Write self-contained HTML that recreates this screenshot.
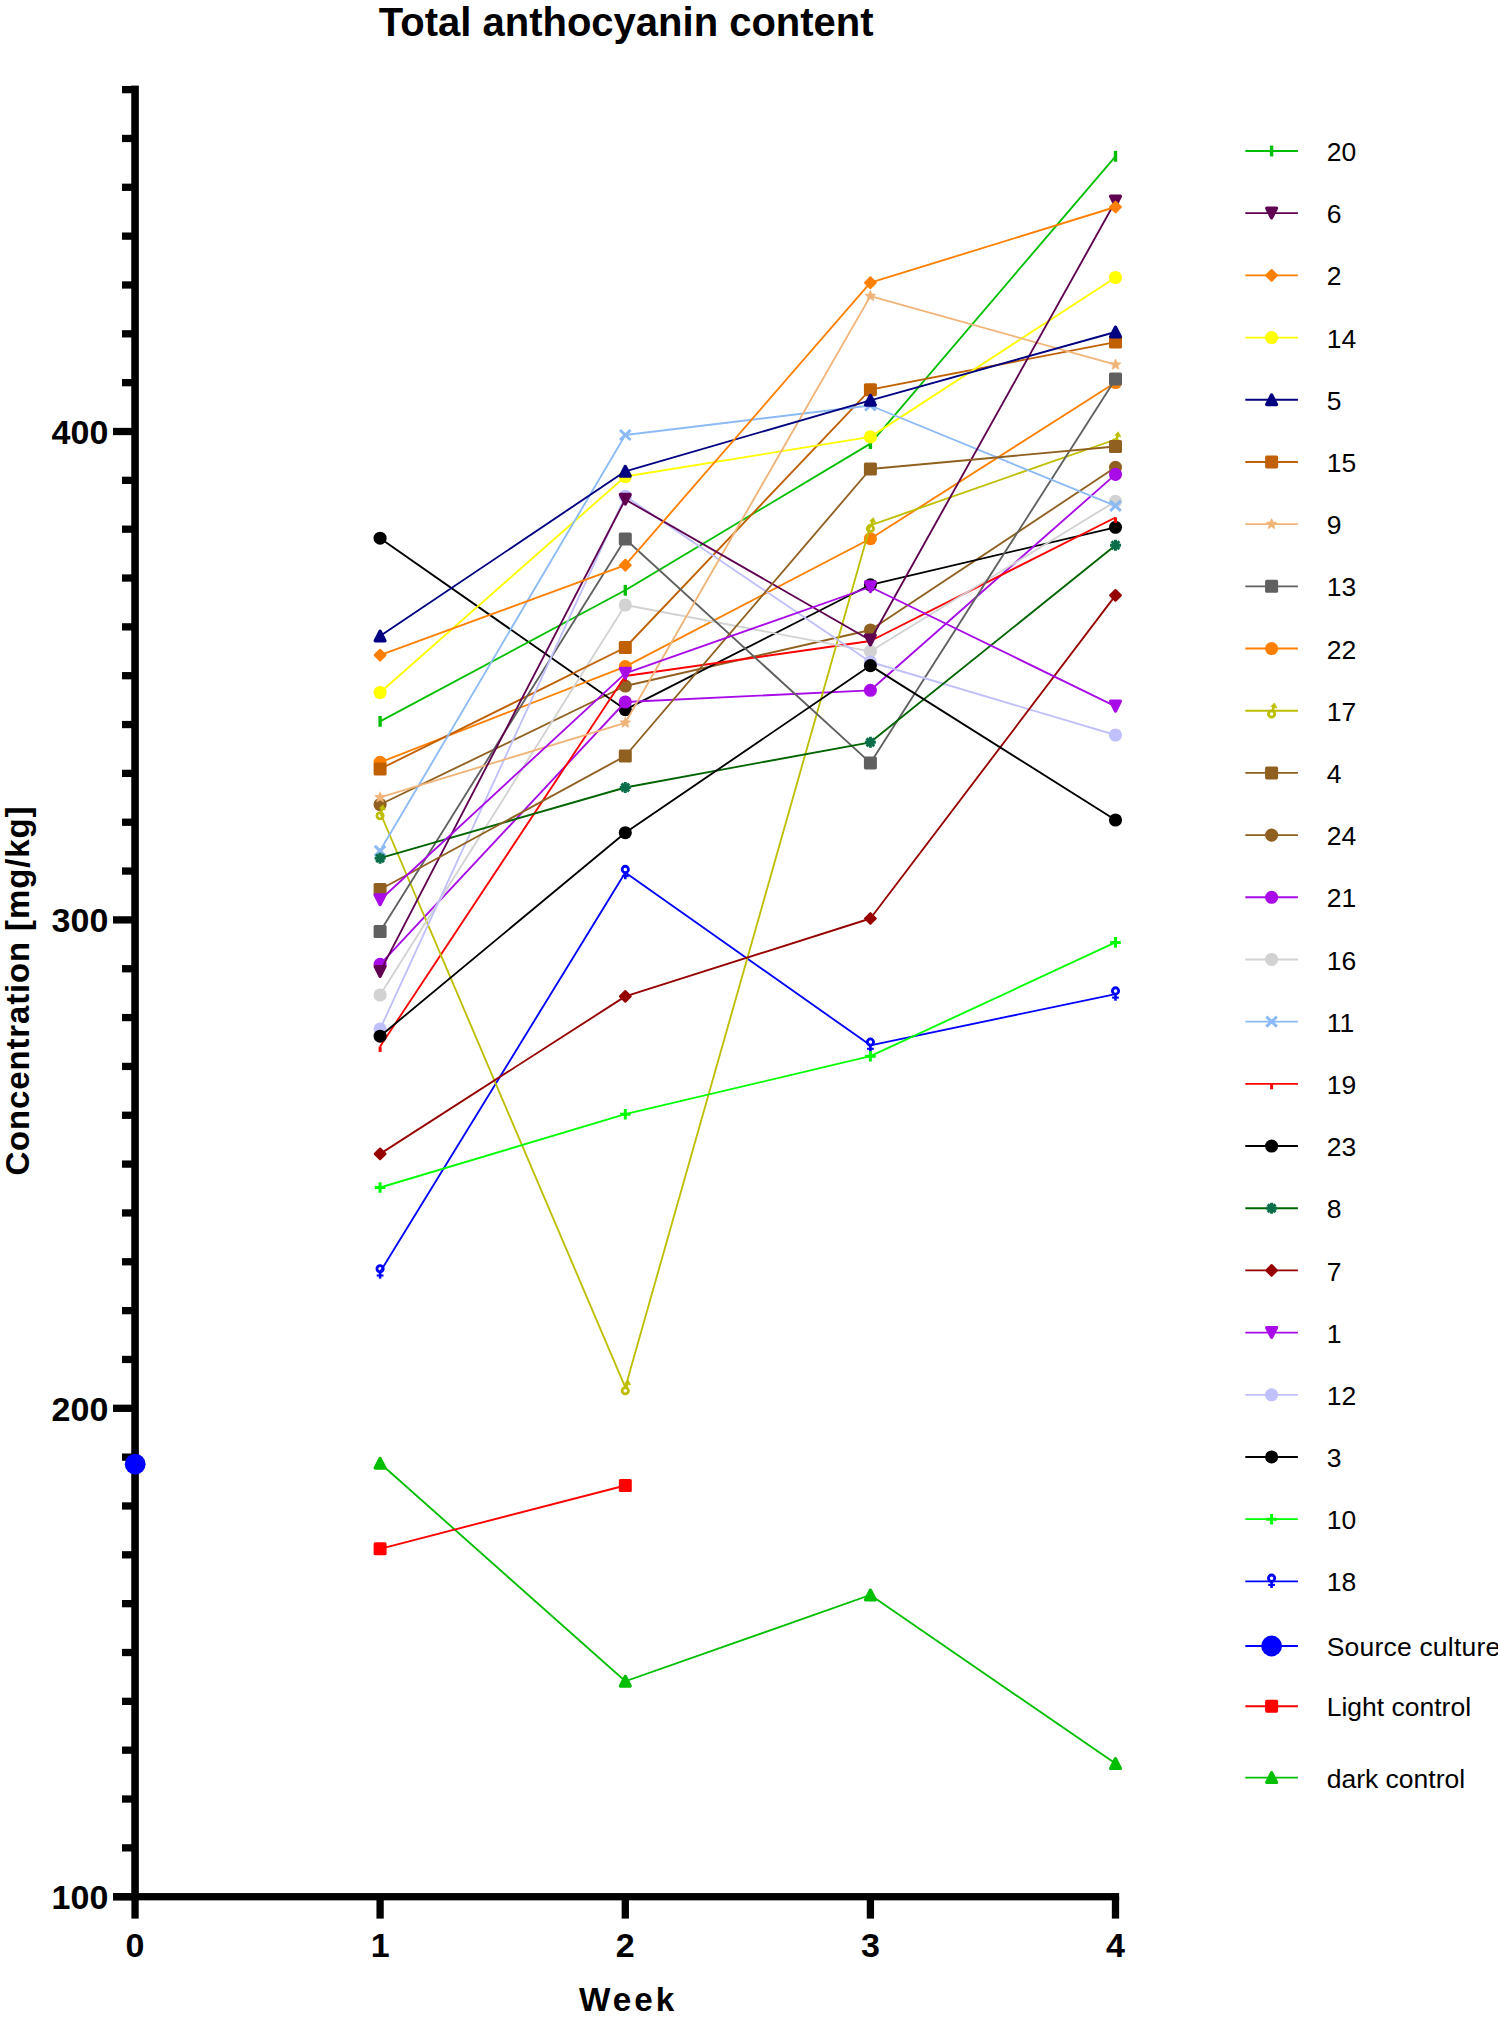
<!DOCTYPE html>
<html lang="en">
<head>
<meta charset="utf-8">
<title>Total anthocyanin content</title>
<style>html,body{margin:0;padding:0;background:#fff}svg{display:block}</style>
</head>
<body>
<svg width="1498" height="2024" viewBox="0 0 1498 2024">
<rect width="1498" height="2024" fill="#fff"/>
<g fill="#000"><rect x="131.25" y="85.6" width="7.6" height="1814.7"/><rect x="113" y="1893.05" width="1006.15" height="7.3"/><rect x="113" y="1893.05" width="22.05" height="7.3"/><rect x="122" y="1844.21" width="13.05" height="7.3"/><rect x="122" y="1795.37" width="13.05" height="7.3"/><rect x="122" y="1746.53" width="13.05" height="7.3"/><rect x="122" y="1697.69" width="13.05" height="7.3"/><rect x="122" y="1648.85" width="13.05" height="7.3"/><rect x="122" y="1600.01" width="13.05" height="7.3"/><rect x="122" y="1551.17" width="13.05" height="7.3"/><rect x="122" y="1502.33" width="13.05" height="7.3"/><rect x="122" y="1453.49" width="13.05" height="7.3"/><rect x="113" y="1404.65" width="22.05" height="7.3"/><rect x="122" y="1355.81" width="13.05" height="7.3"/><rect x="122" y="1306.97" width="13.05" height="7.3"/><rect x="122" y="1258.13" width="13.05" height="7.3"/><rect x="122" y="1209.29" width="13.05" height="7.3"/><rect x="122" y="1160.45" width="13.05" height="7.3"/><rect x="122" y="1111.61" width="13.05" height="7.3"/><rect x="122" y="1062.77" width="13.05" height="7.3"/><rect x="122" y="1013.93" width="13.05" height="7.3"/><rect x="122" y="965.09" width="13.05" height="7.3"/><rect x="113" y="916.25" width="22.05" height="7.3"/><rect x="122" y="867.41" width="13.05" height="7.3"/><rect x="122" y="818.57" width="13.05" height="7.3"/><rect x="122" y="769.73" width="13.05" height="7.3"/><rect x="122" y="720.89" width="13.05" height="7.3"/><rect x="122" y="672.05" width="13.05" height="7.3"/><rect x="122" y="623.21" width="13.05" height="7.3"/><rect x="122" y="574.37" width="13.05" height="7.3"/><rect x="122" y="525.53" width="13.05" height="7.3"/><rect x="122" y="476.69" width="13.05" height="7.3"/><rect x="113" y="427.85" width="22.05" height="7.3"/><rect x="122" y="379.01" width="13.05" height="7.3"/><rect x="122" y="330.17" width="13.05" height="7.3"/><rect x="122" y="281.33" width="13.05" height="7.3"/><rect x="122" y="232.49" width="13.05" height="7.3"/><rect x="122" y="183.65" width="13.05" height="7.3"/><rect x="122" y="134.81" width="13.05" height="7.3"/><rect x="122" y="85.97" width="13.05" height="7.3"/><rect x="131.4" y="1896.7" width="7.3" height="21.9"/><rect x="376.45" y="1896.7" width="7.3" height="21.9"/><rect x="621.65" y="1896.7" width="7.3" height="21.9"/><rect x="866.75" y="1896.7" width="7.3" height="21.9"/><rect x="1111.85" y="1896.7" width="7.3" height="21.9"/></g>
<g font-family="'Liberation Sans', Arial, Helvetica, sans-serif" fill="#000">
<text x="626.2" y="36" font-size="40" font-weight="bold" text-anchor="middle">Total anthocyanin content</text>
<text x="108.3" y="1909.1" font-size="34" font-weight="bold" text-anchor="end">100</text>
<text x="108.3" y="1420.7" font-size="34" font-weight="bold" text-anchor="end">200</text>
<text x="108.3" y="932.3" font-size="34" font-weight="bold" text-anchor="end">300</text>
<text x="108.3" y="443.9" font-size="34" font-weight="bold" text-anchor="end">400</text>
<text x="135.05" y="1956.9" font-size="34" font-weight="bold" text-anchor="middle">0</text>
<text x="380.1" y="1956.9" font-size="34" font-weight="bold" text-anchor="middle">1</text>
<text x="625.3" y="1956.9" font-size="34" font-weight="bold" text-anchor="middle">2</text>
<text x="870.4" y="1956.9" font-size="34" font-weight="bold" text-anchor="middle">3</text>
<text x="1115.5" y="1956.9" font-size="34" font-weight="bold" text-anchor="middle">4</text>
<text x="628.1" y="2010.9" font-size="33.3" font-weight="bold" text-anchor="middle" letter-spacing="2.9">Week</text>
<text transform="translate(29 990.7) rotate(-90)" font-size="33" font-weight="bold" text-anchor="middle" letter-spacing="0.85">Concentration [mg/kg]</text>
</g>
<polyline points="380.1,1463.2 625.3,1681.3 870.4,1595 1115.5,1763.6" fill="none" stroke="#00BE00" stroke-width="1.85"/>
<polygon points="380.1,1458.4 384.95,1468 375.25,1468" fill="#00BE00" stroke="#00BE00" stroke-width="3.4" stroke-linejoin="round"/>
<polygon points="625.3,1676.5 630.15,1686.1 620.45,1686.1" fill="#00BE00" stroke="#00BE00" stroke-width="3.4" stroke-linejoin="round"/>
<polygon points="870.4,1590.2 875.25,1599.8 865.55,1599.8" fill="#00BE00" stroke="#00BE00" stroke-width="3.4" stroke-linejoin="round"/>
<polygon points="1115.5,1758.8 1120.35,1768.4 1110.65,1768.4" fill="#00BE00" stroke="#00BE00" stroke-width="3.4" stroke-linejoin="round"/>
<polyline points="380.1,1548.8 625.3,1485.5" fill="none" stroke="#FF0000" stroke-width="1.85"/>
<rect x="373.6" y="1542.3" width="13.0" height="13.0" rx="1.6" fill="#FF0000"/>
<rect x="618.8" y="1479" width="13.0" height="13.0" rx="1.6" fill="#FF0000"/>
<circle cx="135.2" cy="1464.2" r="10.4" fill="#0000FF"/>
<polyline points="380.1,804.5 625.3,686 870.4,630 1115.5,467.3" fill="none" stroke="#906020" stroke-width="1.85" stroke-linejoin="round"/><circle cx="380.1" cy="804.5" r="6.55" fill="#906020"/><circle cx="625.3" cy="686" r="6.55" fill="#906020"/><circle cx="870.4" cy="630" r="6.55" fill="#906020"/><circle cx="1115.5" cy="467.3" r="6.55" fill="#906020"/>
<polyline points="380.1,538.2 625.3,709.6 870.4,584.8 1115.5,527.3" fill="none" stroke="#000000" stroke-width="1.85" stroke-linejoin="round"/><circle cx="380.1" cy="538.2" r="6.55" fill="#000000"/><circle cx="625.3" cy="709.6" r="6.55" fill="#000000"/><circle cx="870.4" cy="584.8" r="6.55" fill="#000000"/><circle cx="1115.5" cy="527.3" r="6.55" fill="#000000"/>
<polyline points="380.1,762.3 625.3,666.6 870.4,538.7 1115.5,382.5" fill="none" stroke="#FF8000" stroke-width="1.85" stroke-linejoin="round"/><circle cx="380.1" cy="762.3" r="6.55" fill="#FF8000"/><circle cx="625.3" cy="666.6" r="6.55" fill="#FF8000"/><circle cx="870.4" cy="538.7" r="6.55" fill="#FF8000"/><circle cx="1115.5" cy="382.5" r="6.55" fill="#FF8000"/>
<polyline points="380.1,964.4 625.3,702 870.4,690.3 1115.5,474.4" fill="none" stroke="#A80AE8" stroke-width="1.85" stroke-linejoin="round"/><circle cx="380.1" cy="964.4" r="6.55" fill="#A80AE8"/><circle cx="625.3" cy="702" r="6.55" fill="#A80AE8"/><circle cx="870.4" cy="690.3" r="6.55" fill="#A80AE8"/><circle cx="1115.5" cy="474.4" r="6.55" fill="#A80AE8"/>
<polyline points="380.1,721.4 625.3,590.3 870.4,443.6 1115.5,156.3" fill="none" stroke="#00BE00" stroke-width="1.85" stroke-linejoin="round"/><path d="M380.1 716V726.8" stroke="#00BE00" stroke-width="3.4" fill="none"/><path d="M625.3 584.9V595.7" stroke="#00BE00" stroke-width="3.4" fill="none"/><path d="M870.4 438.2V449" stroke="#00BE00" stroke-width="3.4" fill="none"/><path d="M1115.5 150.9V161.7" stroke="#00BE00" stroke-width="3.4" fill="none"/>
<polyline points="380.1,1046.5 625.3,676 870.4,641 1115.5,517.5" fill="none" stroke="#FF0000" stroke-width="1.85" stroke-linejoin="round"/><path d="M380.1 1046.5V1051.9" stroke="#FF0000" stroke-width="3" fill="none"/><path d="M625.3 676V681.4" stroke="#FF0000" stroke-width="3" fill="none"/><path d="M870.4 641V646.4" stroke="#FF0000" stroke-width="3" fill="none"/><path d="M1115.5 517.5V522.9" stroke="#FF0000" stroke-width="3" fill="none"/>
<polyline points="380.1,1272 625.3,872.6 870.4,1045.3 1115.5,994.1" fill="none" stroke="#0000FF" stroke-width="1.85" stroke-linejoin="round"/><g transform="translate(380.1 1272)"><circle cx="0" cy="-3.2" r="3.15" fill="none" stroke="#0000FF" stroke-width="2.8"/><path d="M0 -0.2V6.6" stroke="#0000FF" stroke-width="2.6" fill="none"/><path d="M-3.4 3.5H3.4" stroke="#0000FF" stroke-width="2.1" fill="none"/></g><g transform="translate(625.3 872.6)"><circle cx="0" cy="-3.2" r="3.15" fill="none" stroke="#0000FF" stroke-width="2.8"/><path d="M0 -0.2V6.6" stroke="#0000FF" stroke-width="2.6" fill="none"/><path d="M-3.4 3.5H3.4" stroke="#0000FF" stroke-width="2.1" fill="none"/></g><g transform="translate(870.4 1045.3)"><circle cx="0" cy="-3.2" r="3.15" fill="none" stroke="#0000FF" stroke-width="2.8"/><path d="M0 -0.2V6.6" stroke="#0000FF" stroke-width="2.6" fill="none"/><path d="M-3.4 3.5H3.4" stroke="#0000FF" stroke-width="2.1" fill="none"/></g><g transform="translate(1115.5 994.1)"><circle cx="0" cy="-3.2" r="3.15" fill="none" stroke="#0000FF" stroke-width="2.8"/><path d="M0 -0.2V6.6" stroke="#0000FF" stroke-width="2.6" fill="none"/><path d="M-3.4 3.5H3.4" stroke="#0000FF" stroke-width="2.1" fill="none"/></g>
<polyline points="380.1,812.5 625.3,1387.4 870.4,525.3 1115.5,439.5" fill="none" stroke="#BEBE00" stroke-width="1.85" stroke-linejoin="round"/><g transform="translate(380.1 812.5)"><circle cx="0" cy="3.3" r="3.15" fill="none" stroke="#BEBE00" stroke-width="2.8"/><path d="M0.8 0.6L2.4 -5" stroke="#BEBE00" stroke-width="2.6" fill="none"/><polygon points="2.8,-7.8 -0.7,-4.2 5.4,-2.5" fill="#BEBE00" stroke="#BEBE00" stroke-width="0.6" stroke-linejoin="round"/></g><g transform="translate(625.3 1387.4)"><circle cx="0" cy="3.3" r="3.15" fill="none" stroke="#BEBE00" stroke-width="2.8"/><path d="M0.8 0.6L2.4 -5" stroke="#BEBE00" stroke-width="2.6" fill="none"/><polygon points="2.8,-7.8 -0.7,-4.2 5.4,-2.5" fill="#BEBE00" stroke="#BEBE00" stroke-width="0.6" stroke-linejoin="round"/></g><g transform="translate(870.4 525.3)"><circle cx="0" cy="3.3" r="3.15" fill="none" stroke="#BEBE00" stroke-width="2.8"/><path d="M0.8 0.6L2.4 -5" stroke="#BEBE00" stroke-width="2.6" fill="none"/><polygon points="2.8,-7.8 -0.7,-4.2 5.4,-2.5" fill="#BEBE00" stroke="#BEBE00" stroke-width="0.6" stroke-linejoin="round"/></g><g transform="translate(1115.5 439.5)"><circle cx="0" cy="3.3" r="3.15" fill="none" stroke="#BEBE00" stroke-width="2.8"/><path d="M0.8 0.6L2.4 -5" stroke="#BEBE00" stroke-width="2.6" fill="none"/><polygon points="2.8,-7.8 -0.7,-4.2 5.4,-2.5" fill="#BEBE00" stroke="#BEBE00" stroke-width="0.6" stroke-linejoin="round"/></g>
<polyline points="380.1,995 625.3,605 870.4,651.3 1115.5,501.4" fill="none" stroke="#D2D2D2" stroke-width="1.85" stroke-linejoin="round"/><circle cx="380.1" cy="995" r="6.55" fill="#D2D2D2"/><circle cx="625.3" cy="605" r="6.55" fill="#D2D2D2"/><circle cx="870.4" cy="651.3" r="6.55" fill="#D2D2D2"/><circle cx="1115.5" cy="501.4" r="6.55" fill="#D2D2D2"/>
<polyline points="380.1,769 625.3,647.5 870.4,389.7 1115.5,342.1" fill="none" stroke="#C06000" stroke-width="1.85" stroke-linejoin="round"/><rect x="373.6" y="762.5" width="13.0" height="13.0" rx="1.6" fill="#C06000"/><rect x="618.8" y="641" width="13.0" height="13.0" rx="1.6" fill="#C06000"/><rect x="863.9" y="383.2" width="13.0" height="13.0" rx="1.6" fill="#C06000"/><rect x="1109" y="335.6" width="13.0" height="13.0" rx="1.6" fill="#C06000"/>
<polyline points="380.1,692.5 625.3,476.5 870.4,436.9 1115.5,277.5" fill="none" stroke="#FFFF00" stroke-width="1.85" stroke-linejoin="round"/><circle cx="380.1" cy="692.5" r="6.55" fill="#FFFF00"/><circle cx="625.3" cy="476.5" r="6.55" fill="#FFFF00"/><circle cx="870.4" cy="436.9" r="6.55" fill="#FFFF00"/><circle cx="1115.5" cy="277.5" r="6.55" fill="#FFFF00"/>
<polyline points="380.1,931.5 625.3,539 870.4,762.9 1115.5,379" fill="none" stroke="#606060" stroke-width="1.85" stroke-linejoin="round"/><rect x="373.6" y="925" width="13.0" height="13.0" rx="1.6" fill="#606060"/><rect x="618.8" y="532.5" width="13.0" height="13.0" rx="1.6" fill="#606060"/><rect x="863.9" y="756.4" width="13.0" height="13.0" rx="1.6" fill="#606060"/><rect x="1109" y="372.5" width="13.0" height="13.0" rx="1.6" fill="#606060"/>
<polyline points="380.1,1029 625.3,496.2 870.4,662 1115.5,735" fill="none" stroke="#C0C0FA" stroke-width="1.85" stroke-linejoin="round"/><circle cx="380.1" cy="1029" r="6.55" fill="#C0C0FA"/><circle cx="625.3" cy="496.2" r="6.55" fill="#C0C0FA"/><circle cx="870.4" cy="662" r="6.55" fill="#C0C0FA"/><circle cx="1115.5" cy="735" r="6.55" fill="#C0C0FA"/>
<polyline points="380.1,850.8 625.3,435 870.4,405.5 1115.5,505.9" fill="none" stroke="#8CBAF5" stroke-width="1.85" stroke-linejoin="round"/><path d="M374.8 845.8L385.4 855.8M385.4 845.8L374.8 855.8" stroke="#8CBAF5" stroke-width="3" fill="none"/><path d="M620 430L630.6 440M630.6 430L620 440" stroke="#8CBAF5" stroke-width="3" fill="none"/><path d="M865.1 400.5L875.7 410.5M875.7 400.5L865.1 410.5" stroke="#8CBAF5" stroke-width="3" fill="none"/><path d="M1110.2 500.9L1120.8 510.9M1120.8 500.9L1110.2 510.9" stroke="#8CBAF5" stroke-width="3" fill="none"/>
<polyline points="380.1,1187.5 625.3,1114.2 870.4,1056.2 1115.5,942.4" fill="none" stroke="#00FF00" stroke-width="1.85" stroke-linejoin="round"/><path d="M374.8 1187.5H385.4M380.1 1182.2V1192.8" stroke="#00FF00" stroke-width="3" fill="none"/><path d="M620 1114.2H630.6M625.3 1108.9V1119.5" stroke="#00FF00" stroke-width="3" fill="none"/><path d="M865.1 1056.2H875.7M870.4 1050.9V1061.5" stroke="#00FF00" stroke-width="3" fill="none"/><path d="M1110.2 942.4H1120.8M1115.5 937.1V947.7" stroke="#00FF00" stroke-width="3" fill="none"/>
<polyline points="380.1,797.4 625.3,722.8 870.4,296.1 1115.5,364.7" fill="none" stroke="#F0B478" stroke-width="1.85" stroke-linejoin="round"/><polygon points="380.1,791.8 381.57,795.38 385.43,795.67 382.48,798.17 383.39,801.93 380.1,799.9 376.81,801.93 377.72,798.17 374.77,795.67 378.63,795.38" fill="#F0B478" stroke="#F0B478" stroke-width="0.8" stroke-linejoin="round"/><polygon points="625.3,717.2 626.77,720.78 630.63,721.07 627.68,723.57 628.59,727.33 625.3,725.3 622.01,727.33 622.92,723.57 619.97,721.07 623.83,720.78" fill="#F0B478" stroke="#F0B478" stroke-width="0.8" stroke-linejoin="round"/><polygon points="870.4,290.5 871.87,294.08 875.73,294.37 872.78,296.87 873.69,300.63 870.4,298.6 867.11,300.63 868.02,296.87 865.07,294.37 868.93,294.08" fill="#F0B478" stroke="#F0B478" stroke-width="0.8" stroke-linejoin="round"/><polygon points="1115.5,359.1 1116.97,362.68 1120.83,362.97 1117.88,365.47 1118.79,369.23 1115.5,367.2 1112.21,369.23 1113.12,365.47 1110.17,362.97 1114.03,362.68" fill="#F0B478" stroke="#F0B478" stroke-width="0.8" stroke-linejoin="round"/>
<polyline points="380.1,858.2 625.3,787.5 870.4,742.3 1115.5,545.2" fill="none" stroke="#006400" stroke-width="1.85" stroke-linejoin="round"/><path d="M374.6 858.2H385.6M380.1 852.7V863.7M376.21 854.31L383.99 862.09M383.99 854.31L376.21 862.09" stroke="#0A6E4B" stroke-width="3" fill="none"/><path d="M619.8 787.5H630.8M625.3 782V793M621.41 783.61L629.19 791.39M629.19 783.61L621.41 791.39" stroke="#0A6E4B" stroke-width="3" fill="none"/><path d="M864.9 742.3H875.9M870.4 736.8V747.8M866.51 738.41L874.29 746.19M874.29 738.41L866.51 746.19" stroke="#0A6E4B" stroke-width="3" fill="none"/><path d="M1110 545.2H1121M1115.5 539.7V550.7M1111.61 541.31L1119.39 549.09M1119.39 541.31L1111.61 549.09" stroke="#0A6E4B" stroke-width="3" fill="none"/>
<polyline points="380.1,1153.9 625.3,996.4 870.4,918.5 1115.5,595.4" fill="none" stroke="#960000" stroke-width="1.85" stroke-linejoin="round"/><polygon points="380.1,1148.6 385.4,1153.9 380.1,1159.2 374.8,1153.9" fill="#960000" stroke="#960000" stroke-width="2.2" stroke-linejoin="round"/><polygon points="625.3,991.1 630.6,996.4 625.3,1001.7 620,996.4" fill="#960000" stroke="#960000" stroke-width="2.2" stroke-linejoin="round"/><polygon points="870.4,913.2 875.7,918.5 870.4,923.8 865.1,918.5" fill="#960000" stroke="#960000" stroke-width="2.2" stroke-linejoin="round"/><polygon points="1115.5,590.1 1120.8,595.4 1115.5,600.7 1110.2,595.4" fill="#960000" stroke="#960000" stroke-width="2.2" stroke-linejoin="round"/>
<polyline points="380.1,971.6 625.3,499.5 870.4,640.2 1115.5,201.3" fill="none" stroke="#5F0050" stroke-width="1.85" stroke-linejoin="round"/><polygon points="380.1,976.2 384.95,966.6 375.25,966.6" fill="#5F0050" stroke="#5F0050" stroke-width="3.4" stroke-linejoin="round"/><polygon points="625.3,504.1 630.15,494.5 620.45,494.5" fill="#5F0050" stroke="#5F0050" stroke-width="3.4" stroke-linejoin="round"/><polygon points="870.4,644.8 875.25,635.2 865.55,635.2" fill="#5F0050" stroke="#5F0050" stroke-width="3.4" stroke-linejoin="round"/><polygon points="1115.5,205.9 1120.35,196.3 1110.65,196.3" fill="#5F0050" stroke="#5F0050" stroke-width="3.4" stroke-linejoin="round"/>
<polyline points="380.1,636 625.3,471.3 870.4,400.3 1115.5,332" fill="none" stroke="#000080" stroke-width="1.85" stroke-linejoin="round"/><polygon points="380.1,631.2 384.95,640.8 375.25,640.8" fill="#000080" stroke="#000080" stroke-width="3.4" stroke-linejoin="round"/><polygon points="625.3,466.5 630.15,476.1 620.45,476.1" fill="#000080" stroke="#000080" stroke-width="3.4" stroke-linejoin="round"/><polygon points="870.4,395.5 875.25,405.1 865.55,405.1" fill="#000080" stroke="#000080" stroke-width="3.4" stroke-linejoin="round"/><polygon points="1115.5,327.2 1120.35,336.8 1110.65,336.8" fill="#000080" stroke="#000080" stroke-width="3.4" stroke-linejoin="round"/>
<polyline points="380.1,889.5 625.3,756 870.4,469 1115.5,446.5" fill="none" stroke="#906020" stroke-width="1.85" stroke-linejoin="round"/><rect x="373.6" y="883" width="13.0" height="13.0" rx="1.6" fill="#906020"/><rect x="618.8" y="749.5" width="13.0" height="13.0" rx="1.6" fill="#906020"/><rect x="863.9" y="462.5" width="13.0" height="13.0" rx="1.6" fill="#906020"/><rect x="1109" y="440" width="13.0" height="13.0" rx="1.6" fill="#906020"/>
<polyline points="380.1,1036.2 625.3,832.7 870.4,665.6 1115.5,820" fill="none" stroke="#000000" stroke-width="1.85" stroke-linejoin="round"/><circle cx="380.1" cy="1036.2" r="6.55" fill="#000000"/><circle cx="625.3" cy="832.7" r="6.55" fill="#000000"/><circle cx="870.4" cy="665.6" r="6.55" fill="#000000"/><circle cx="1115.5" cy="820" r="6.55" fill="#000000"/>
<polyline points="380.1,655.1 625.3,565.2 870.4,282.7 1115.5,207" fill="none" stroke="#FF8000" stroke-width="1.85" stroke-linejoin="round"/><polygon points="380.1,649.8 385.4,655.1 380.1,660.4 374.8,655.1" fill="#FF8000" stroke="#FF8000" stroke-width="2.2" stroke-linejoin="round"/><polygon points="625.3,559.9 630.6,565.2 625.3,570.5 620,565.2" fill="#FF8000" stroke="#FF8000" stroke-width="2.2" stroke-linejoin="round"/><polygon points="870.4,277.4 875.7,282.7 870.4,288 865.1,282.7" fill="#FF8000" stroke="#FF8000" stroke-width="2.2" stroke-linejoin="round"/><polygon points="1115.5,201.7 1120.8,207 1115.5,212.3 1110.2,207" fill="#FF8000" stroke="#FF8000" stroke-width="2.2" stroke-linejoin="round"/>
<polyline points="380.1,900 625.3,673.4 870.4,587 1115.5,706.3" fill="none" stroke="#A80AE8" stroke-width="1.85" stroke-linejoin="round"/><polygon points="380.1,904.6 384.95,895 375.25,895" fill="#A80AE8" stroke="#A80AE8" stroke-width="3.4" stroke-linejoin="round"/><polygon points="625.3,678 630.15,668.4 620.45,668.4" fill="#A80AE8" stroke="#A80AE8" stroke-width="3.4" stroke-linejoin="round"/><polygon points="870.4,591.6 875.25,582 865.55,582" fill="#A80AE8" stroke="#A80AE8" stroke-width="3.4" stroke-linejoin="round"/><polygon points="1115.5,710.9 1120.35,701.3 1110.65,701.3" fill="#A80AE8" stroke="#A80AE8" stroke-width="3.4" stroke-linejoin="round"/>
<g font-family="'Liberation Sans', Arial, Helvetica, sans-serif" font-size="26.5" fill="#000">
<path d="M1245.3 151H1297.9" stroke="#00BE00" stroke-width="1.85"/>
<path d="M1271.6 145.6V156.4" stroke="#00BE00" stroke-width="3.4" fill="none"/>
<text x="1326.7" y="161.1">20</text>
<path d="M1245.3 213.19H1297.9" stroke="#5F0050" stroke-width="1.85"/>
<polygon points="1271.6,217.79 1276.45,208.19 1266.75,208.19" fill="#5F0050" stroke="#5F0050" stroke-width="3.4" stroke-linejoin="round"/>
<text x="1326.7" y="223.29">6</text>
<path d="M1245.3 275.38H1297.9" stroke="#FF8000" stroke-width="1.85"/>
<polygon points="1271.6,270.08 1276.9,275.38 1271.6,280.68 1266.3,275.38" fill="#FF8000" stroke="#FF8000" stroke-width="2.2" stroke-linejoin="round"/>
<text x="1326.7" y="285.48">2</text>
<path d="M1245.3 337.57H1297.9" stroke="#FFFF00" stroke-width="1.85"/>
<circle cx="1271.6" cy="337.57" r="6.55" fill="#FFFF00"/>
<text x="1326.7" y="347.67">14</text>
<path d="M1245.3 399.76H1297.9" stroke="#000080" stroke-width="1.85"/>
<polygon points="1271.6,394.96 1276.45,404.56 1266.75,404.56" fill="#000080" stroke="#000080" stroke-width="3.4" stroke-linejoin="round"/>
<text x="1326.7" y="409.86">5</text>
<path d="M1245.3 461.95H1297.9" stroke="#C06000" stroke-width="1.85"/>
<rect x="1265.1" y="455.45" width="13.0" height="13.0" rx="1.6" fill="#C06000"/>
<text x="1326.7" y="472.05">15</text>
<path d="M1245.3 524.14H1297.9" stroke="#F0B478" stroke-width="1.85"/>
<polygon points="1271.6,518.54 1273.07,522.12 1276.93,522.41 1273.98,524.91 1274.89,528.67 1271.6,526.64 1268.31,528.67 1269.22,524.91 1266.27,522.41 1270.13,522.12" fill="#F0B478" stroke="#F0B478" stroke-width="0.8" stroke-linejoin="round"/>
<text x="1326.7" y="534.24">9</text>
<path d="M1245.3 586.33H1297.9" stroke="#606060" stroke-width="1.85"/>
<rect x="1265.1" y="579.83" width="13.0" height="13.0" rx="1.6" fill="#606060"/>
<text x="1326.7" y="596.43">13</text>
<path d="M1245.3 648.52H1297.9" stroke="#FF8000" stroke-width="1.85"/>
<circle cx="1271.6" cy="648.52" r="6.55" fill="#FF8000"/>
<text x="1326.7" y="658.62">22</text>
<path d="M1245.3 710.71H1297.9" stroke="#BEBE00" stroke-width="1.85"/>
<g transform="translate(1271.6 710.71)"><circle cx="0" cy="3.3" r="3.15" fill="none" stroke="#BEBE00" stroke-width="2.8"/><path d="M0.8 0.6L2.4 -5" stroke="#BEBE00" stroke-width="2.6" fill="none"/><polygon points="2.8,-7.8 -0.7,-4.2 5.4,-2.5" fill="#BEBE00" stroke="#BEBE00" stroke-width="0.6" stroke-linejoin="round"/></g>
<text x="1326.7" y="720.81">17</text>
<path d="M1245.3 772.9H1297.9" stroke="#906020" stroke-width="1.85"/>
<rect x="1265.1" y="766.4" width="13.0" height="13.0" rx="1.6" fill="#906020"/>
<text x="1326.7" y="783">4</text>
<path d="M1245.3 835.09H1297.9" stroke="#906020" stroke-width="1.85"/>
<circle cx="1271.6" cy="835.09" r="6.55" fill="#906020"/>
<text x="1326.7" y="845.19">24</text>
<path d="M1245.3 897.28H1297.9" stroke="#A80AE8" stroke-width="1.85"/>
<circle cx="1271.6" cy="897.28" r="6.55" fill="#A80AE8"/>
<text x="1326.7" y="907.38">21</text>
<path d="M1245.3 959.47H1297.9" stroke="#D2D2D2" stroke-width="1.85"/>
<circle cx="1271.6" cy="959.47" r="6.55" fill="#D2D2D2"/>
<text x="1326.7" y="969.57">16</text>
<path d="M1245.3 1021.66H1297.9" stroke="#8CBAF5" stroke-width="1.85"/>
<path d="M1266.3 1016.66L1276.9 1026.66M1276.9 1016.66L1266.3 1026.66" stroke="#8CBAF5" stroke-width="3" fill="none"/>
<text x="1326.7" y="1031.76">11</text>
<path d="M1245.3 1083.85H1297.9" stroke="#FF0000" stroke-width="1.85"/>
<path d="M1271.6 1083.85V1089.25" stroke="#FF0000" stroke-width="3" fill="none"/>
<text x="1326.7" y="1093.95">19</text>
<path d="M1245.3 1146.04H1297.9" stroke="#000000" stroke-width="1.85"/>
<circle cx="1271.6" cy="1146.04" r="6.55" fill="#000000"/>
<text x="1326.7" y="1156.14">23</text>
<path d="M1245.3 1208.23H1297.9" stroke="#006400" stroke-width="1.85"/>
<path d="M1266.1 1208.23H1277.1M1271.6 1202.73V1213.73M1267.71 1204.34L1275.49 1212.12M1275.49 1204.34L1267.71 1212.12" stroke="#0A6E4B" stroke-width="3" fill="none"/>
<text x="1326.7" y="1218.33">8</text>
<path d="M1245.3 1270.42H1297.9" stroke="#960000" stroke-width="1.85"/>
<polygon points="1271.6,1265.12 1276.9,1270.42 1271.6,1275.72 1266.3,1270.42" fill="#960000" stroke="#960000" stroke-width="2.2" stroke-linejoin="round"/>
<text x="1326.7" y="1280.52">7</text>
<path d="M1245.3 1332.61H1297.9" stroke="#A80AE8" stroke-width="1.85"/>
<polygon points="1271.6,1337.21 1276.45,1327.61 1266.75,1327.61" fill="#A80AE8" stroke="#A80AE8" stroke-width="3.4" stroke-linejoin="round"/>
<text x="1326.7" y="1342.71">1</text>
<path d="M1245.3 1394.8H1297.9" stroke="#C0C0FA" stroke-width="1.85"/>
<circle cx="1271.6" cy="1394.8" r="6.55" fill="#C0C0FA"/>
<text x="1326.7" y="1404.9">12</text>
<path d="M1245.3 1456.99H1297.9" stroke="#000000" stroke-width="1.85"/>
<circle cx="1271.6" cy="1456.99" r="6.55" fill="#000000"/>
<text x="1326.7" y="1467.09">3</text>
<path d="M1245.3 1519.18H1297.9" stroke="#00FF00" stroke-width="1.85"/>
<path d="M1266.3 1519.18H1276.9M1271.6 1513.88V1524.48" stroke="#00FF00" stroke-width="3" fill="none"/>
<text x="1326.7" y="1529.28">10</text>
<path d="M1245.3 1581.37H1297.9" stroke="#0000FF" stroke-width="1.85"/>
<g transform="translate(1271.6 1581.37)"><circle cx="0" cy="-3.2" r="3.15" fill="none" stroke="#0000FF" stroke-width="2.8"/><path d="M0 -0.2V6.6" stroke="#0000FF" stroke-width="2.6" fill="none"/><path d="M-3.4 3.5H3.4" stroke="#0000FF" stroke-width="2.1" fill="none"/></g>
<text x="1326.7" y="1591.47">18</text>
<path d="M1245.3 1646H1297.9" stroke="#0000FF" stroke-width="1.85"/>
<circle cx="1271.6" cy="1646" r="10.4" fill="#0000FF"/>
<text x="1326.7" y="1656.1" letter-spacing="0.2">Source culture</text>
<path d="M1245.3 1706.2H1297.9" stroke="#FF0000" stroke-width="1.85"/>
<rect x="1265.1" y="1699.7" width="13.0" height="13.0" rx="1.6" fill="#FF0000"/>
<text x="1326.7" y="1716.3">Light control</text>
<path d="M1245.3 1777.6H1297.9" stroke="#00BE00" stroke-width="1.85"/>
<polygon points="1271.6,1772.8 1276.45,1782.4 1266.75,1782.4" fill="#00BE00" stroke="#00BE00" stroke-width="3.4" stroke-linejoin="round"/>
<text x="1326.7" y="1787.7">dark control</text>
</g>
</svg>
</body>
</html>
